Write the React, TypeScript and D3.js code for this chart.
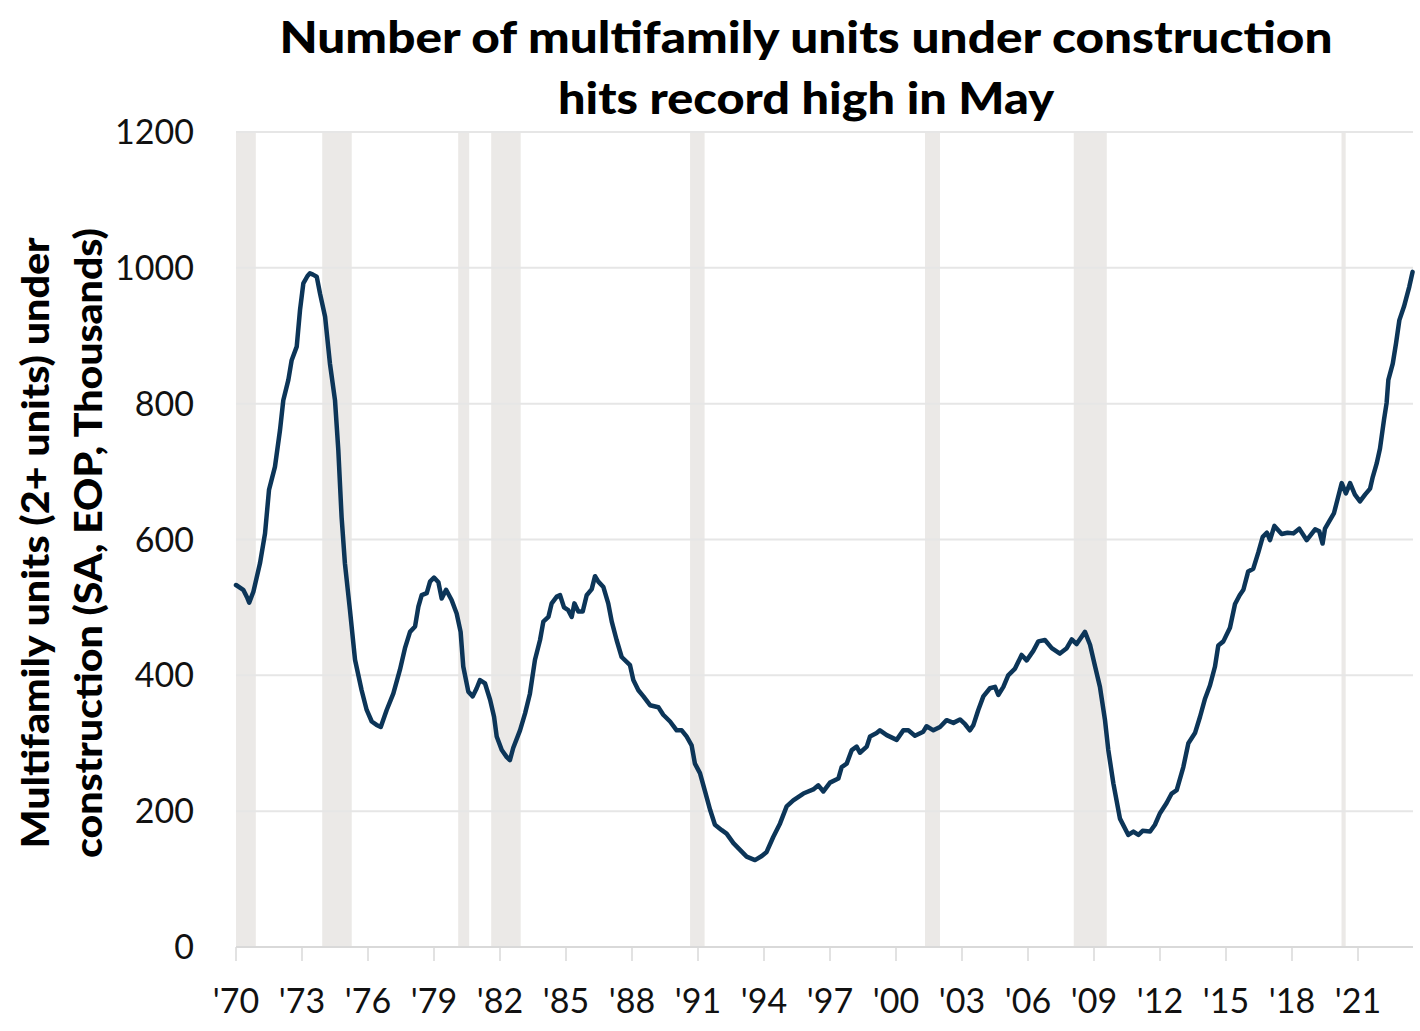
import React from "react";
import * as d3 from "d3";

// Decimal year of each observation
const years: number[] = [
  1970.0, 1970.33, 1970.5, 1970.6, 1970.79, 1971.09, 1971.32, 1971.5, 1971.77, 1972.0,
  1972.15, 1972.38, 1972.53, 1972.76, 1972.91, 1973.06, 1973.25, 1973.36, 1973.5, 1973.67,
  1973.82, 1974.05, 1974.27, 1974.5, 1974.65, 1974.8, 1974.95, 1975.18, 1975.41, 1975.71,
  1975.94, 1976.17, 1976.39, 1976.58, 1976.85, 1977.15, 1977.45, 1977.68, 1977.91, 1978.14,
  1978.29, 1978.44, 1978.67, 1978.82, 1979.0, 1979.2, 1979.35, 1979.55, 1979.8, 1980.03,
  1980.21, 1980.33, 1980.56, 1980.76, 1980.94, 1981.09, 1981.32, 1981.55, 1981.73, 1981.85,
  1982.08, 1982.3, 1982.45, 1982.6, 1982.91, 1983.14, 1983.36, 1983.59, 1983.82, 1983.97,
  1984.2, 1984.35, 1984.58, 1984.73, 1984.91, 1985.1, 1985.26, 1985.38, 1985.56, 1985.76,
  1985.94, 1986.17, 1986.32, 1986.47, 1986.7, 1986.92, 1987.08, 1987.3, 1987.53, 1987.91,
  1988.06, 1988.29, 1988.52, 1988.82, 1989.2, 1989.42, 1989.73, 1990.03, 1990.26, 1990.48,
  1990.71, 1990.86, 1991.09, 1991.32, 1991.55, 1991.77, 1992.08, 1992.3, 1992.61, 1992.91,
  1993.21, 1993.59, 1993.9, 1994.12, 1994.42, 1994.73, 1995.03, 1995.33, 1995.79, 1996.24,
  1996.47, 1996.7, 1997.0, 1997.38, 1997.53, 1997.76, 1997.99, 1998.21, 1998.36, 1998.67,
  1998.82, 1999.12, 1999.27, 1999.58, 2000.03, 2000.33, 2000.56, 2000.86, 2001.24, 2001.39,
  2001.7, 2002.0, 2002.3, 2002.61, 2002.91, 2003.14, 2003.36, 2003.52, 2003.74, 2003.97,
  2004.27, 2004.5, 2004.65, 2004.88, 2005.1, 2005.41, 2005.71, 2005.94, 2006.24, 2006.47,
  2006.77, 2007.08, 2007.45, 2007.76, 2007.99, 2008.21, 2008.59, 2008.82, 2009.05, 2009.27,
  2009.5, 2009.65, 2009.88, 2010.18, 2010.56, 2010.79, 2011.02, 2011.21, 2011.55, 2011.77,
  2012.0, 2012.3, 2012.53, 2012.76, 2013.06, 2013.29, 2013.59, 2013.82, 2014.05, 2014.27,
  2014.5, 2014.65, 2014.88, 2015.18, 2015.41, 2015.62, 2015.79, 2016.01, 2016.24, 2016.47,
  2016.67, 2016.86, 2017.0, 2017.2, 2017.53, 2017.8, 2018.06, 2018.33, 2018.67, 2019.05,
  2019.24, 2019.39, 2019.5, 2019.73, 2019.91, 2020.1, 2020.26, 2020.45, 2020.64, 2020.86,
  2021.09, 2021.32, 2021.55, 2021.67, 2021.85, 2022.0, 2022.18, 2022.3, 2022.38, 2022.58,
  2022.73, 2022.88, 2023.09, 2023.33, 2023.48,
];

// Multifamily units under construction, thousands
const units: number[] = [
  533, 526, 515, 507, 523, 565, 609, 673, 707, 761,
  805, 835, 864, 884, 938, 977, 988, 992, 990, 987,
  962, 928, 859, 805, 732, 633, 565, 496, 423, 378,
  349, 332, 327, 324, 349, 373, 408, 440, 464, 472,
  501, 518, 521, 538, 544, 537, 513, 526, 511, 491,
  464, 413, 376, 369, 381, 393, 388, 364, 339, 310,
  290, 280, 275, 293, 319, 344, 373, 423, 452, 479,
  486, 506, 516, 518, 500, 496, 486, 506, 494, 494,
  518, 527, 546, 538, 530, 506, 479, 452, 427, 415,
  393, 378, 369, 356, 353, 342, 332, 319, 319, 310,
  297, 270, 256, 229, 202, 180, 172, 167, 153, 143,
  133, 128, 134, 140, 162, 182, 207, 216, 226, 232,
  238, 229, 242, 248, 265, 270, 290, 295, 286, 295,
  310, 315, 319, 312, 305, 319, 319, 311, 317, 325,
  319, 324, 334, 330, 335, 328, 319, 327, 349, 369,
  381, 383, 371, 383, 400, 410, 430, 422, 436, 450,
  452, 440, 432, 440, 453, 446, 464, 445, 413, 383,
  334, 290, 241, 189, 165, 170, 165, 171, 170, 180,
  197, 212, 226, 231, 265, 300, 315, 339, 366, 385,
  413, 444, 450, 470, 505, 518, 526, 553, 557, 581,
  604, 610, 599, 620, 608, 610, 609, 616, 599, 615,
  612, 594, 616, 629, 639, 663, 683, 668, 683, 666,
  656, 666, 675, 692, 712, 734, 776, 801, 835, 859,
  889, 923, 943, 972, 994,
];

// Recession periods (decimal years)
const recessionStarts: number[] = [1969.9, 1973.92, 1980.1, 1981.6, 1990.64, 2001.32, 2008.08, 2020.25];
const recessionEnds: number[] = [1970.9, 1975.26, 1980.6, 1982.94, 1991.3, 2002.0, 2009.58, 2020.44];

const xTickYears: number[] = [1970, 1973, 1976, 1979, 1982, 1985, 1988, 1991, 1994, 1997, 2000, 2003, 2006, 2009, 2012, 2015, 2018, 2021];
const xTickLabels: string[] = ["'70", "'73", "'76", "'79", "'82", "'85", "'88", "'91", "'94", "'97", "'00", "'03", "'06", "'09", "'12", "'15", "'18", "'21"];
const yTicks: number[] = [0, 200, 400, 600, 800, 1000, 1200];

const titleLines: string[] = ["Number of multifamily units under construction", "hits record high in May"];
const yTitleLines: string[] = ["Multifamily units (2+ units) under", "construction (SA, EOP, Thousands)"];

const W = 1420;
const H = 1031;
const M = { left: 236, right: 1413, top: 132, bottom: 947 };
const FONT = "Lato, 'Open Sans', sans-serif";
const TITLE_WIDTHS = [1053, 496];
const YTITLE_WIDTHS = [611, 630];

export default function App() {
  const x = d3.scaleLinear().domain([1970, 2023.5]).range([M.left, M.right]);
  const y = d3.scaleLinear().domain([0, 1200]).range([M.bottom, M.top]);
  const pts: [number, number][] = years.map((t, i) => [t, units[i]]);
  const line = d3
    .line<[number, number]>()
    .x((d) => x(d[0]))
    .y((d) => y(d[1]));

  return (
    <svg
      width={W}
      height={H}
      viewBox={`0 0 ${W} ${H}`}
      style={{ position: "absolute", left: 0, top: 0, background: "#fff" }}
      fontFamily={FONT}
    >
      {/* recession bands */}
      {recessionStarts.map((s, i) => {
        const x0 = x(Math.max(s, 1970));
        const x1 = x(recessionEnds[i]);
        return <rect key={"r" + i} x={x0} y={M.top} width={x1 - x0} height={M.bottom - M.top} fill="#ebe9e7" />;
      })}
      {/* gridlines */}
      {yTicks.filter((v) => v > 0).map((v) => (
        <line key={"g" + v} x1={M.left} x2={M.right} y1={y(v)} y2={y(v)} stroke="#e6e6e6" strokeWidth={2} />
      ))}
      {/* x axis */}
      <line x1={M.left} x2={M.right} y1={M.bottom} y2={M.bottom} stroke="#d9d9d9" strokeWidth={2} />
      {xTickYears.map((t, i) => (
        <g key={"xt" + t}>
          <line x1={x(t)} x2={x(t)} y1={M.bottom} y2={M.bottom + 14} stroke="#d9d9d9" strokeWidth={1.5} />
          <text x={x(t)} y={1013} textAnchor="middle" fontSize={34} fill="#111">
            {xTickLabels[i]}
          </text>
        </g>
      ))}
      {/* y axis labels */}
      {yTicks.map((v) => (
        <text key={"yt" + v} x={194} y={y(v) + 12} textAnchor="end" fontSize={34} fill="#111">
          {v}
        </text>
      ))}
      {/* data line */}
      <path d={line(pts) || ""} fill="none" stroke="#0c3558" strokeWidth={4.5} strokeLinejoin="round" strokeLinecap="round" />
      {/* title */}
      {titleLines.map((t, i) => (
        <text
          key={"t" + i}
          x={806}
          y={53 + i * 61}
          textAnchor="middle"
          fontSize={44}
          fontWeight={900}
          fill="#000"
          textLength={TITLE_WIDTHS[i]}
          lengthAdjust="spacingAndGlyphs"
        >
          {t}
        </text>
      ))}
      {/* y title */}
      {yTitleLines.map((t, i) => (
        <text
          key={"yl" + i}
          transform={`translate(${49 + i * 53}, ${543}) rotate(-90)`}
          textAnchor="middle"
          fontSize={37}
          fontWeight={900}
          fill="#000"
          textLength={YTITLE_WIDTHS[i]}
          lengthAdjust="spacingAndGlyphs"
        >
          {t}
        </text>
      ))}
    </svg>
  );
}
